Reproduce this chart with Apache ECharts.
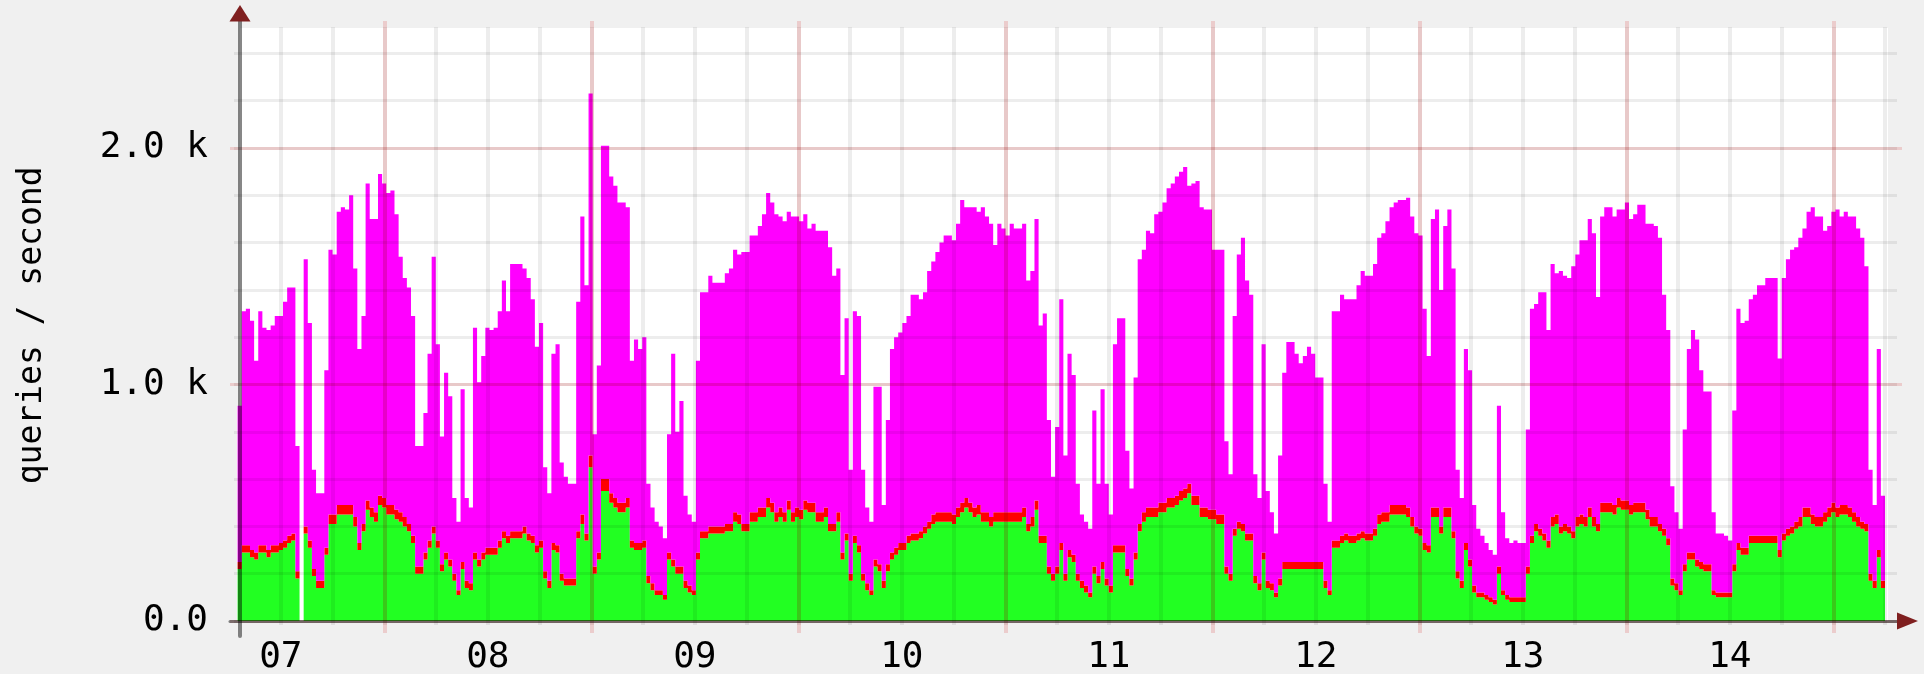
<!DOCTYPE html>
<html><head><meta charset="utf-8">
<script src="https://cdn.jsdelivr.net/npm/echarts@6.0.0/dist/echarts.min.js"></script>
<style>html,body{margin:0;padding:0;background:#f0f0f0;}#c{width:1924px;height:674px;}</style>
</head><body><div id="c"></div>
<script>
// Day labels (centred on each day)
const dayLabels = ['07','08','09','10','11','12','13','14'];
// y tick values (k queries / second)
const yTicks = [0, 1, 2];
// total queries/second per column (k)
const total = [
0.91,1.31,1.32,1.27,1.10,1.31,1.24,1.23,1.25,1.29,
1.29,1.35,1.41,1.41,0.74,null,1.53,1.26,0.64,0.54,
0.54,1.06,1.57,1.55,1.73,1.75,1.74,1.80,1.49,1.15,
1.29,1.85,1.70,1.70,1.89,1.85,1.81,1.82,1.72,1.54,
1.45,1.41,1.29,0.74,0.74,0.88,1.13,1.54,1.17,0.78,
1.05,0.95,0.52,0.42,0.98,0.52,0.48,1.24,1.01,1.12,
1.24,1.23,1.24,1.31,1.44,1.31,1.51,1.51,1.51,1.49,
1.45,1.36,1.16,1.26,0.65,0.54,1.13,1.17,0.67,0.61,
0.58,0.58,1.35,1.71,1.42,2.23,0.79,1.08,2.01,2.01,
1.88,1.84,1.77,1.77,1.75,1.10,1.19,1.15,1.20,0.58,
0.48,0.42,0.40,0.35,0.79,1.13,0.80,0.93,0.53,0.45,
0.42,1.10,1.39,1.39,1.46,1.43,1.43,1.43,1.47,1.49,
1.57,1.55,1.56,1.56,1.63,1.63,1.67,1.72,1.81,1.77,
1.72,1.71,1.69,1.73,1.71,1.71,1.69,1.72,1.66,1.68,
1.65,1.65,1.65,1.58,1.46,1.49,1.04,1.28,0.64,1.31,
1.29,0.64,0.48,0.42,0.99,0.99,0.49,0.85,1.15,1.20,
1.22,1.26,1.29,1.38,1.38,1.36,1.39,1.48,1.52,1.56,
1.60,1.63,1.63,1.61,1.68,1.78,1.75,1.75,1.75,1.73,
1.75,1.71,1.68,1.59,1.68,1.66,1.63,1.68,1.66,1.66,
1.68,1.44,1.48,1.70,1.25,1.30,0.85,0.61,0.82,1.36,
0.70,1.13,1.04,0.58,0.45,0.42,0.39,0.89,0.58,0.98,
0.58,0.45,1.17,1.28,1.28,0.72,0.56,1.03,1.53,1.57,
1.65,1.64,1.72,1.73,1.77,1.83,1.85,1.88,1.90,1.92,
1.84,1.85,1.86,1.75,1.74,1.74,1.57,1.57,1.57,0.76,
0.62,1.29,1.55,1.62,1.44,1.38,0.62,0.52,1.17,0.55,
0.46,0.37,0.70,1.05,1.18,1.18,1.13,1.09,1.12,1.16,
1.13,1.03,1.03,0.58,0.42,1.31,1.31,1.38,1.36,1.36,
1.36,1.42,1.48,1.46,1.46,1.51,1.62,1.64,1.69,1.75,
1.77,1.78,1.78,1.79,1.71,1.64,1.63,1.32,1.12,1.70,
1.74,1.40,1.67,1.74,1.49,0.64,0.52,1.15,1.06,0.49,
0.39,0.36,0.33,0.30,0.28,0.91,0.46,0.35,0.33,0.34,
0.33,0.33,0.81,1.32,1.34,1.39,1.39,1.23,1.51,1.47,
1.48,1.46,1.45,1.50,1.55,1.61,1.61,1.70,1.64,1.37,
1.71,1.75,1.75,1.71,1.74,1.74,1.77,1.70,1.72,1.76,
1.76,1.68,1.68,1.67,1.62,1.38,1.23,0.57,0.46,0.39,
0.81,1.15,1.23,1.19,1.06,0.97,0.97,0.46,0.37,0.37,
0.36,0.34,0.89,1.32,1.26,1.27,1.36,1.38,1.42,1.42,
1.45,1.45,1.45,1.11,1.45,1.53,1.57,1.58,1.62,1.66,
1.73,1.75,1.71,1.71,1.65,1.67,1.73,1.74,1.71,1.73,
1.71,1.71,1.66,1.62,1.50,0.64,0.49,1.15,0.53
];
// green layer (k)
const green = [
0.22,0.29,0.29,0.27,0.26,0.29,0.29,0.27,0.29,0.29,
0.30,0.31,0.33,0.34,0.18,null,0.37,0.31,0.19,0.14,
0.14,0.28,0.41,0.41,0.45,0.45,0.45,0.45,0.40,0.30,
0.38,0.47,0.44,0.42,0.49,0.48,0.45,0.45,0.43,0.42,
0.40,0.38,0.33,0.20,0.20,0.26,0.31,0.37,0.31,0.21,
0.26,0.23,0.17,0.11,0.22,0.14,0.13,0.26,0.23,0.26,
0.28,0.28,0.28,0.31,0.35,0.33,0.35,0.35,0.35,0.37,
0.34,0.33,0.29,0.31,0.18,0.14,0.30,0.29,0.17,0.15,
0.15,0.15,0.35,0.41,0.34,0.65,0.20,0.26,0.55,0.55,
0.50,0.48,0.46,0.46,0.48,0.31,0.30,0.30,0.31,0.16,
0.13,0.11,0.11,0.09,0.26,0.23,0.20,0.20,0.14,0.12,
0.11,0.26,0.35,0.35,0.37,0.37,0.37,0.37,0.38,0.38,
0.42,0.41,0.38,0.38,0.42,0.42,0.44,0.44,0.48,0.46,
0.42,0.44,0.42,0.47,0.42,0.44,0.43,0.47,0.46,0.46,
0.42,0.42,0.44,0.38,0.38,0.42,0.26,0.34,0.17,0.33,
0.29,0.17,0.13,0.11,0.23,0.21,0.14,0.21,0.26,0.28,
0.30,0.30,0.33,0.34,0.34,0.35,0.37,0.39,0.41,0.42,
0.42,0.42,0.42,0.41,0.44,0.46,0.48,0.46,0.44,0.45,
0.42,0.42,0.40,0.42,0.42,0.42,0.42,0.42,0.42,0.42,
0.44,0.38,0.40,0.47,0.33,0.33,0.20,0.17,0.20,0.30,
0.17,0.27,0.25,0.17,0.14,0.12,0.10,0.20,0.16,0.22,
0.15,0.12,0.29,0.29,0.29,0.19,0.15,0.26,0.38,0.42,
0.44,0.44,0.44,0.46,0.46,0.48,0.48,0.49,0.51,0.52,
0.54,0.49,0.49,0.44,0.44,0.43,0.43,0.41,0.41,0.20,
0.17,0.36,0.39,0.38,0.34,0.34,0.16,0.13,0.26,0.14,
0.13,0.10,0.15,0.22,0.22,0.22,0.22,0.22,0.22,0.22,
0.22,0.22,0.22,0.14,0.11,0.31,0.31,0.33,0.34,0.33,
0.33,0.34,0.35,0.34,0.34,0.36,0.41,0.42,0.42,0.45,
0.45,0.45,0.45,0.44,0.40,0.37,0.36,0.30,0.29,0.44,
0.44,0.37,0.44,0.44,0.35,0.18,0.14,0.30,0.23,0.12,
0.10,0.10,0.09,0.08,0.07,0.20,0.11,0.09,0.08,0.08,
0.08,0.08,0.20,0.33,0.38,0.36,0.34,0.31,0.40,0.41,
0.37,0.38,0.37,0.35,0.40,0.41,0.40,0.44,0.40,0.38,
0.46,0.46,0.46,0.45,0.48,0.47,0.47,0.45,0.46,0.46,
0.46,0.43,0.40,0.40,0.38,0.36,0.32,0.15,0.13,0.11,
0.21,0.26,0.26,0.23,0.22,0.21,0.21,0.11,0.10,0.10,
0.10,0.10,0.21,0.30,0.28,0.28,0.33,0.33,0.33,0.33,
0.33,0.33,0.33,0.27,0.34,0.36,0.37,0.39,0.40,0.44,
0.44,0.41,0.40,0.40,0.42,0.44,0.46,0.44,0.45,0.45,
0.44,0.42,0.40,0.39,0.38,0.17,0.14,0.27,0.14
];
// red layer (k)
const red = [
.03,.03,.03,.03,.03,.03,.03,.03,.03,.03,
.03,.03,.03,.03,.03,null,.03,.03,.03,.03,
.03,.03,.04,.04,.04,.04,.04,.04,.04,.03,
.03,.04,.04,.04,.04,.04,.04,.04,.04,.04,
.04,.03,.03,.03,.03,.03,.03,.03,.03,.03,
.03,.03,.03,.02,.03,.03,.03,.03,.03,.03,
.03,.03,.03,.03,.03,.03,.03,.03,.03,.03,
.03,.03,.03,.03,.03,.03,.03,.03,.03,.03,
.03,.03,.03,.04,.03,.05,.03,.03,.05,.05,
.04,.04,.04,.04,.04,.03,.03,.03,.03,.03,
.03,.02,.02,.02,.03,.03,.03,.03,.03,.03,
.02,.03,.03,.03,.03,.03,.03,.03,.03,.03,
.04,.04,.03,.03,.04,.04,.04,.04,.04,.04,
.04,.04,.04,.04,.04,.04,.04,.04,.04,.04,
.04,.04,.04,.03,.03,.04,.03,.03,.03,.03,
.03,.03,.03,.02,.03,.03,.03,.03,.03,.03,
.03,.03,.03,.03,.03,.03,.03,.03,.04,.04,
.04,.04,.04,.04,.04,.04,.04,.04,.04,.04,
.04,.04,.04,.04,.04,.04,.04,.04,.04,.04,
.04,.03,.04,.04,.03,.03,.03,.03,.03,.03,
.03,.03,.03,.03,.03,.03,.02,.03,.03,.03,
.03,.03,.03,.03,.03,.03,.03,.03,.03,.04,
.04,.04,.04,.04,.04,.04,.04,.04,.04,.04,
.04,.04,.04,.04,.04,.04,.04,.04,.04,.03,
.03,.03,.03,.03,.03,.03,.03,.03,.03,.03,
.03,.02,.03,.03,.03,.03,.03,.03,.03,.03,
.03,.03,.03,.03,.02,.03,.03,.03,.03,.03,
.03,.03,.03,.03,.03,.03,.04,.04,.04,.04,
.04,.04,.04,.04,.04,.03,.03,.03,.03,.04,
.04,.03,.04,.04,.03,.03,.03,.03,.03,.03,
.02,.02,.02,.02,.02,.03,.02,.02,.02,.02,
.02,.02,.03,.03,.03,.03,.03,.03,.04,.04,
.03,.03,.03,.03,.04,.04,.04,.04,.04,.03,
.04,.04,.04,.04,.04,.04,.04,.04,.04,.04,
.04,.04,.04,.04,.03,.03,.03,.03,.03,.02,
.03,.03,.03,.03,.03,.03,.03,.02,.02,.02,
.02,.02,.03,.03,.03,.03,.03,.03,.03,.03,
.03,.03,.03,.03,.03,.03,.03,.03,.04,.04,
.04,.04,.04,.04,.04,.04,.04,.04,.04,.04,
.04,.04,.04,.03,.03,.03,.03,.03,.03
];

// ---- derived for the library ----
const slots = total.map((_, i) => String(i));
const magenta = total.map((t, i) => t == null ? null : Math.max(0, +(t - green[i] - red[i]).toFixed(3)));

// ---- layout constants (pixels) ----
const Y0 = 621, PXK = 236.5;          // zero line and px per 1 k
const PXH = 8.625, XDAY = 384.3;      // px per hour, x of hour 24
const tx = t => XDAY + (t - 24) * PXH;
const FONT = 'DejaVu Sans Mono';
const GREY = 'rgba(0,0,0,0.07)', MRED = 'rgba(210,0,0,0.15)', AX = 'rgba(0,0,0,0.47)';

const off = {show: false};
const base = {outerBoundsMode: 'none', containLabel: false};
const grids = [
  Object.assign({left: 240, top: 28, width: 1888 - 240, height: Y0 - 28, show: true, backgroundColor: '#ffffff', borderWidth: 0}, base), // 0 canvas
  Object.assign({left: 237.6, top: Y0 - 2.5 * PXK, width: 1885 - 237.6, height: 2.5 * PXK}, base),     // 1 data
  Object.assign({left: tx(12), top: 27, width: tx(198) - tx(12), height: 625 - 27}, base),            // 2 grey vertical + day labels
  Object.assign({left: tx(24), top: 21, width: tx(192) - tx(24), height: 633 - 21}, base),            // 3 red vertical
  Object.assign({left: 234, top: Y0 - 2.4 * PXK, width: 1897 - 234, height: 2.4 * PXK}, base),        // 4 grey horizontal
  Object.assign({left: 230, top: Y0 - 2 * PXK, width: 1902 - 230, height: 2 * PXK}, base),            // 5 red horizontal + labels
  Object.assign({left: 240, top: 21, width: 10, height: 636 - 21}, base),                              // 6 y axis line
  Object.assign({left: 230, top: Y0 - 10, width: 1897 - 230, height: 10}, base)                        // 7 x axis line
];
const hid = (gi, extra) => Object.assign({gridIndex: gi, type: 'value', min: 0, max: 1, show: false}, extra || {});
const plain = {axisLine: {show: false, onZero: false}, axisTick: off, axisLabel: off, splitLine: off};

const xAxis = [
  hid(0),
  {gridIndex: 1, type: 'category', data: slots, boundaryGap: true, show: false},
  Object.assign({}, plain, {gridIndex: 2, type: 'value', min: 12, max: 198, interval: 6, z: 3,
    splitLine: {show: true, lineStyle: {color: GREY, width: 4}},
    axisLabel: {show: true, margin: 15, fontFamily: FONT, fontSize: 36, color: '#000', showMinLabel: true, showMaxLabel: true,
      formatter: v => { const k = Math.round((v - 12) / 24); return (Math.abs(v - 12 - 24 * k) < 1e-6 && dayLabels[k]) ? dayLabels[k] : ''; }}}),
  Object.assign({}, plain, {gridIndex: 3, type: 'value', min: 24, max: 192, interval: 24, z: 3,
    splitLine: {show: true, lineStyle: {color: MRED, width: 4}}}),
  hid(4), hid(5), hid(6),
  Object.assign({}, plain, {gridIndex: 7, type: 'value', min: 0, max: 1, z: 4,
    axisLine: {show: true, onZero: false, lineStyle: {color: AX, width: 3}}})
];
const yAxis = [
  hid(0),
  Object.assign({}, plain, {gridIndex: 1, type: 'value', min: 0, max: 2.5,
    name: 'queries / second', nameLocation: 'middle', nameRotate: 90, nameGap: 189,
    nameTextStyle: {fontFamily: FONT, fontSize: 33, color: '#000'}}),
  hid(2), hid(3),
  Object.assign({}, plain, {gridIndex: 4, type: 'value', min: 0, max: 2.4, interval: 0.2, z: 3,
    splitLine: {show: true, lineStyle: {color: GREY, width: 3}}}),
  Object.assign({}, plain, {gridIndex: 5, type: 'value', min: yTicks[0], max: yTicks[yTicks.length - 1], interval: 1, z: 3,
    splitLine: {show: true, lineStyle: {color: MRED, width: 3}},
    axisLabel: {show: true, margin: 22, fontFamily: FONT, fontSize: 36, color: '#000',
      formatter: v => v === 0 ? '0.0' : v.toFixed(1) + ' k'}}),
  Object.assign({}, plain, {gridIndex: 6, type: 'value', min: 0, max: 1, z: 4,
    axisLine: {show: true, onZero: false, lineStyle: {color: AX, width: 4}}}),
  hid(7)
];

const barS = (name, data, color) => ({
  name, type: 'bar', xAxisIndex: 1, yAxisIndex: 1, stack: 'q', data,
  barCategoryGap: '0%', barGap: '0%', silent: true, z: 2,
  large: true, largeThreshold: 50,
  itemStyle: {color}
});

const chart = echarts.init(document.getElementById('c'), null, {renderer: 'canvas'});
chart.setOption({
  animation: false,
  backgroundColor: '#f0f0f0',
  textStyle: {fontFamily: FONT},
  grid: grids, xAxis, yAxis,
  series: [
    barS('green', green, '#22ff22'),
    barS('red', red, '#ff0000'),
    barS('magenta', magenta, '#ff00ff')
  ],
  graphic: [
    {type: 'polygon', z: 100, shape: {points: [[229.5, 21.5], [250.5, 21.5], [240, 5]]}, style: {fill: '#7f1f1f'}},
    {type: 'polygon', z: 100, shape: {points: [[1897, 612.5], [1897, 629.5], [1918, 621]]}, style: {fill: '#7f1f1f'}}
  ]
});
</script>
</body></html>
